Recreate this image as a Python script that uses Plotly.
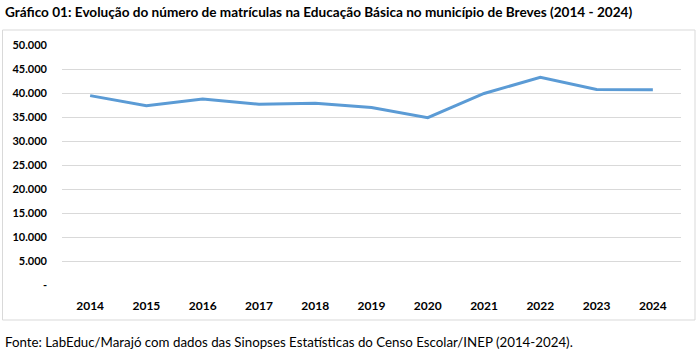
import plotly.graph_objects as go

anos = ["2014", "2015", "2016", "2017", "2018", "2019", "2020", "2021", "2022", "2023", "2024"]
matriculas = [39450, 37350, 38750, 37650, 37850, 36980, 34850, 39900, 43250, 40750, 40700]
y_ticks = [0, 5000, 10000, 15000, 20000, 25000, 30000, 35000, 40000, 45000, 50000]
y_tick_labels = ["-", "5.000", "10.000", "15.000", "20.000", "25.000", "30.000", "35.000", "40.000", "45.000", "50.000"]

titulo = "Gráfico 01: Evolução do número de matrículas na Educação Básica no município de Breves (2014 - 2024)"
fonte = "Fonte: LabEduc/Marajó com dados das Sinopses Estatísticas do Censo Escolar/INEP (2014-2024)."

FONT = "Lato"

fig = go.Figure()
fig.add_trace(go.Scatter(
    x=anos, y=matriculas, mode="lines",
    line=dict(color="#5B9BD5", width=3),
    hoverinfo="x+y",
))

W, H = 696, 351
fig.update_layout(
    width=W, height=H,
    margin=dict(l=62, r=15, t=45, b=66),
    paper_bgcolor="white", plot_bgcolor="white",
    showlegend=False,
    font=dict(family=FONT, color="#000000"),
    xaxis=dict(
        type="category", range=[-0.5, len(anos) - 0.5],
        showgrid=False, zeroline=False, showline=False,
        ticks="", tickfont=dict(family=FONT, size=12, color="#000000", weight="bold"),
        ticklabelstandoff=12, fixedrange=True,
    ),
    yaxis=dict(
        range=[0, 50000], tickvals=y_ticks, ticktext=y_tick_labels,
        showgrid=True, gridcolor="#D9D9D9", gridwidth=1, zeroline=False,
        showline=False, ticks="",
        tickfont=dict(family=FONT, size=11, color="#000000", weight="bold"),
        ticklabelstandoff=14, fixedrange=True,
    ),
)

fig.add_shape(type="rect", xref="paper", yref="paper",
              x0=(2.5 - 62) / (W - 77), x1=(695 - 62) / (W - 77),
              y0=(285 - 320) / 240, y1=(285 - 30) / 240,
              line=dict(color="#D9D9D9", width=1), fillcolor="rgba(0,0,0,0)", layer="below")

fig.add_annotation(text="<b>" + titulo + "</b>", xref="paper", yref="paper",
                   x=(3 - 62) / (W - 77), y=(285 - 12) / 240, xanchor="left", yanchor="middle",
                   showarrow=False, font=dict(family=FONT, size=13.6, color="#000000"))
fig.add_annotation(text=fonte, xref="paper", yref="paper",
                   x=(3 - 62) / (W - 77), y=(285 - 342) / 240, xanchor="left", yanchor="middle",
                   showarrow=False, font=dict(family=FONT, size=13.3, color="#000000"))

fig.write_html("out.html")
